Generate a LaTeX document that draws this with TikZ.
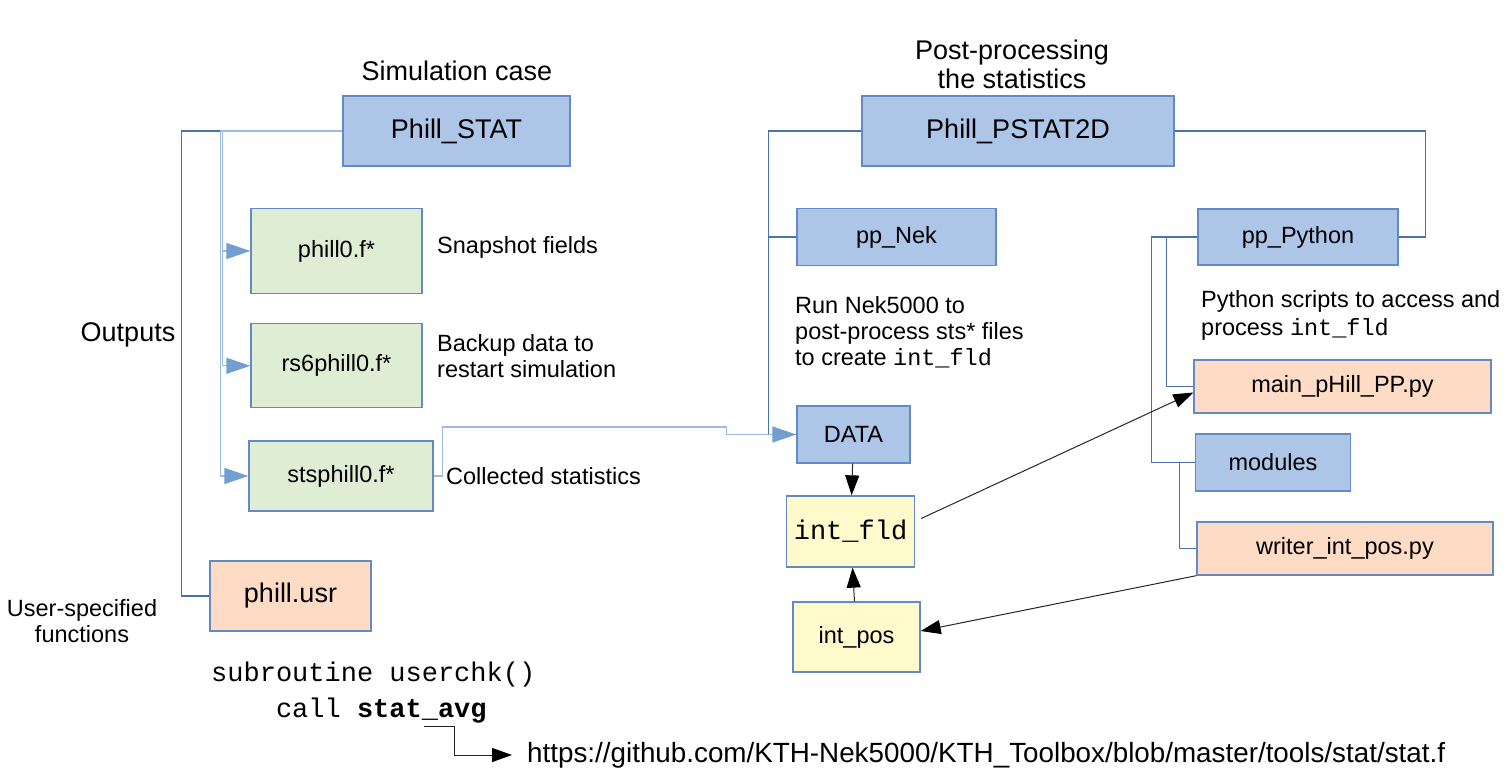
\documentclass[tikz,border=0pt]{standalone}
\usepackage{fontspec}
\setmainfont{Liberation Sans}
\setmonofont{Liberation Mono}
\usepackage{tikz}
\usetikzlibrary{positioning}
\usetikzlibrary{arrows.meta}

\definecolor{casefill}{RGB}{173,198,232}
\definecolor{filefill}{RGB}{224,237,213}
\definecolor{srcfill}{RGB}{253,219,197}
\definecolor{datfill}{RGB}{255,250,204}
\definecolor{boxline}{RGB}{99,137,199}
\definecolor{treeline}{RGB}{74,114,176}
\definecolor{feedline}{RGB}{155,187,228}
\definecolor{feedtip}{RGB}{114,159,207}

\newcommand{\bigtxt}{\fontsize{27}{29}\selectfont}
\newcommand{\midtxt}{\fontsize{23.5}{26}\selectfont}

\begin{document}
\begin{tikzpicture}[x=1pt,y=-1pt,
	box/.style={rectangle,draw=boxline,line width=1.3pt,inner sep=0pt,align=center,font=\midtxt},
	casebox/.style={box,fill=casefill},
	filebox/.style={box,fill=filefill},
	srcbox/.style={box,fill=srcfill},
	datbox/.style={box,fill=datfill},
	note/.style={align=left,inner sep=0pt,font=\midtxt},
	tree/.style={draw=treeline,line width=1.2pt},
	feed/.style={draw=feedline,line width=1.2pt,-{Triangle[length=24pt,width=16pt,color=feedtip]}},
	flow/.style={draw=black!85,line width=1pt,-{Triangle[length=20pt,width=14pt,color=black]}}
	]
	\useasboundingbox (0,0) rectangle (1507,776);

	% simulation case
	\node [casebox,minimum width=227pt,minimum height=70pt,font=\bigtxt] (stat)	at (456.5,131)	{Phill\_STAT};
	\node [font=\bigtxt,inner sep=0pt] (simcase)	at (457,71)	{Simulation case};
	\node [filebox,minimum width=171pt,minimum height=85pt] (phill0)	at (336.5,251)	{phill0.f*};
	\node [filebox,minimum width=171pt,minimum height=84pt] (rs6)		[below=29pt of phill0]	{rs6phill0.f*};
	\node [filebox,minimum width=184pt,minimum height=70pt] (sts)		at (341,476)	{stsphill0.f*};
	\node [srcbox,minimum width=161pt,minimum height=70pt,font=\bigtxt] (usr)	at (290.5,596)	{phill.usr};

	\node [note,anchor=west] (snaptxt)	at (437,247)	{Snapshot fields};
	\node [note,anchor=west] (backtxt)	at (437,356)	{Backup data to\\restart simulation};
	\node [note,anchor=west] (colltxt)	at (446,476)	{Collected statistics};
	\node [font=\bigtxt,inner sep=0pt] (outtxt)	at (128,335)	{Outputs};
	\node [note,align=center] (usertxt)	at (82,621)	{User-specified\\functions};

	% post-processing
	\node [casebox,minimum width=312pt,minimum height=70pt,font=\bigtxt] (pstat)	at (1018,131)	{Phill\_PSTAT2D};
	\node [font=\bigtxt,inner sep=0pt,align=center] (posttxt)	at (1012,64)	{Post-processing\\the statistics};
	\node [casebox,minimum width=199pt,minimum height=57pt] (ppnek)	at (896.5,237)	{pp\_Nek};
	\node [note,anchor=north west] (nektxt)	at (795,296)	{Run Nek5000 to\\post-process sts* files\\to create {\ttfamily int\_fld}};
	\node [casebox,minimum width=113pt,minimum height=57pt] (data)	at (853.5,434.5)	{DATA};
	\node [datbox,minimum width=128pt,minimum height=71pt,font=\bigtxt\ttfamily] (intfld)	at (850.5,531.5)	{int\_fld};
	\node [datbox,minimum width=127pt,minimum height=70pt] (intpos)	at (856.5,637)	{int\_pos};

	\node [casebox,minimum width=200pt,minimum height=56pt] (pppy)	at (1298,237)	{pp\_Python};
	\node [note,anchor=north west,font=\fontsize{23.5}{28}\selectfont] (pytxt)	at (1201,290)	{Python scripts to access and\\process {\ttfamily int\_fld}};
	\node [srcbox,minimum width=297pt,minimum height=53pt] (mainpp)	at (1342.5,386.5)	{main\_pHill\_PP.py};
	\node [casebox,minimum width=155pt,minimum height=57pt] (modules)	at (1273,462.5)	{modules};
	\node [srcbox,minimum width=296pt,minimum height=53pt] (writer)	at (1345,548.5)	{writer\_int\_pos.py};

	% user routine
	\node [anchor=north west,align=left,inner sep=0pt,font=\bigtxt\ttfamily] (code)	at (211,662)	{subroutine userchk()\\[7pt]\phantom{xxxx}call \textbf{stat\_avg}};
	\coordinate (statref)	at (424,726);
	\node [anchor=west,inner sep=0pt,inner xsep=15pt,font=\fontsize{27.8}{30}\selectfont] (url)	at (512,755)	{https://github.com/KTH-Nek5000/KTH\_Toolbox/blob/master/tools/stat/stat.f};

	% trees
	\draw [tree] (stat.west) -- ++(-161,0) |- (usr.west);
	\draw [tree] (pstat.west) -- ++(-93,0) |- (ppnek.west);
	\draw [tree] (pstat.west) -- ++(-93,0) |- (data.west);
	\draw [tree] (pstat.east) -- ++(251,0) |- (pppy.east);
	\draw [tree] (pppy.west) -- ++(-31,0) |- (mainpp.west);
	\draw [tree] (pppy.west) -- ++(-46,0) |- (modules.west);
	\draw [tree] (modules.west) -- ++(-15,0) |- (writer.west);

	\draw [feed] (stat.west) -- ++(-120,0) |- (phill0.west);
	\draw [feed] (stat.west) -- ++(-120,0) |- (rs6.west);
	\draw [feed] (stat.west) -- ++(-122,0) |- (sts.west);
	\draw [feed] (sts.east) -- ++(9,0) -- ++(0,-49) -- ++(284,0) |- (data.west);

	\draw [flow] (data) to (intfld);
	\draw [flow] (intpos) to (intfld);
	\draw [flow] ([xshift=6pt,yshift=13pt]intfld.east) to ([yshift=-6pt]mainpp.west);
	\draw [flow] (writer.south west) to ([yshift=6pt]intpos.east);
	\draw [flow] (statref) -- ++(30,0) |- (url.west);

\end{tikzpicture}
\end{document}
